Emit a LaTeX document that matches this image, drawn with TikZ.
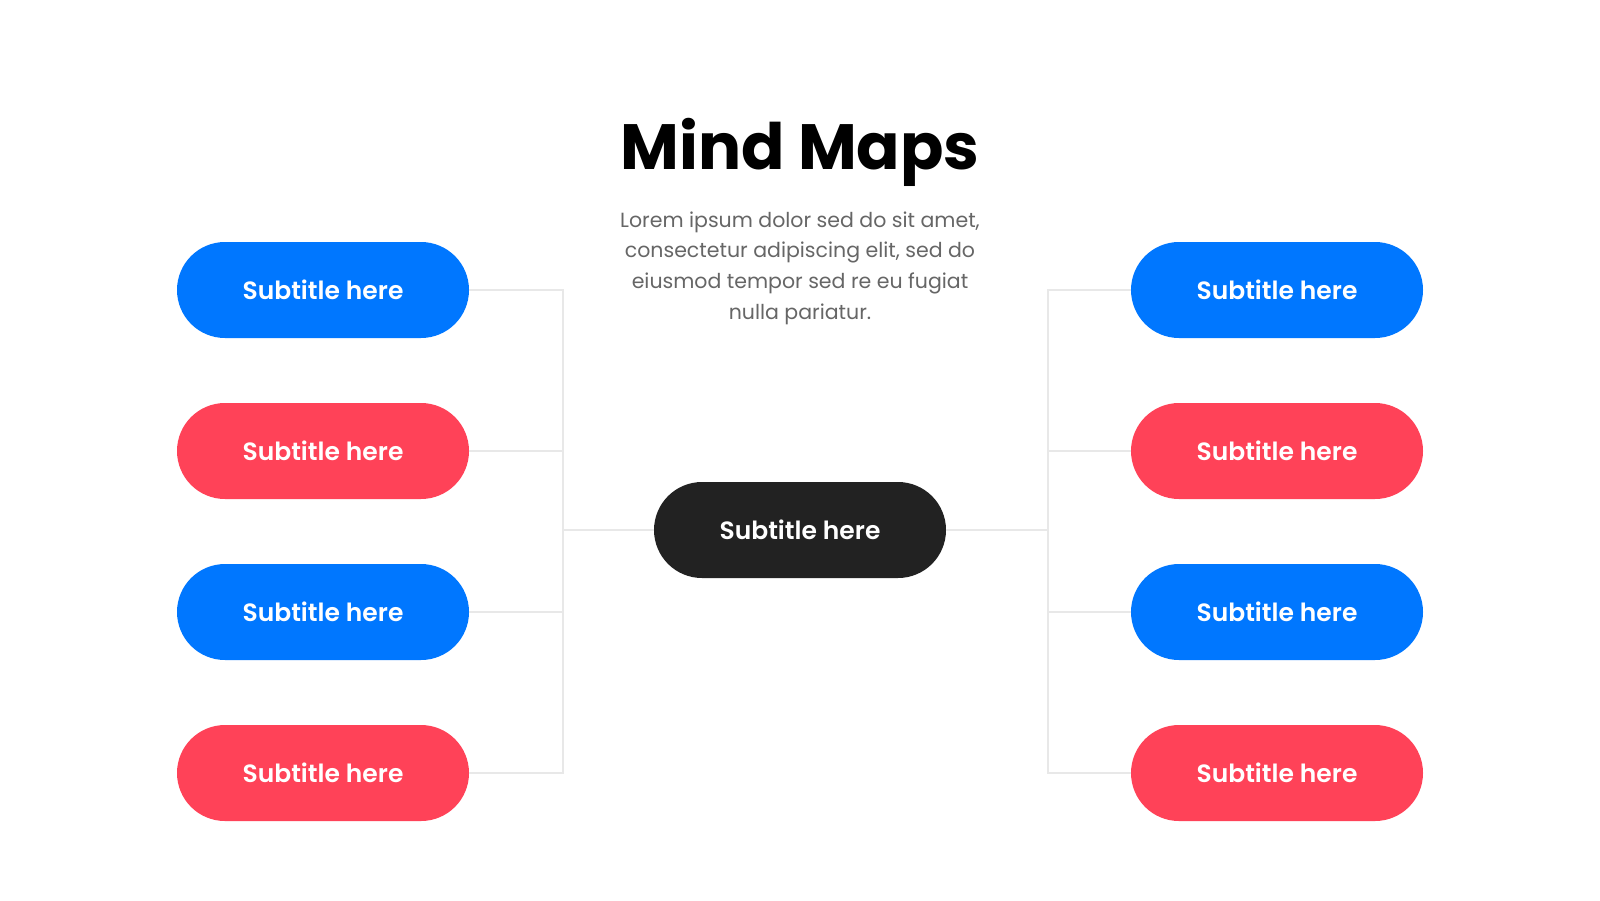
\documentclass[tikz,border=0pt]{standalone}
\usepackage{fontspec}
\usetikzlibrary{shapes.misc}
\setmainfont{Poppins}
\newfontfamily\pmed{Poppins}[UprightFont=* SemiBold]
\definecolor{pblue}{HTML}{0077FF}
\definecolor{pred}{HTML}{FF4258}
\definecolor{pdark}{HTML}{222222}
\definecolor{plinec}{HTML}{E8E8E8}
\definecolor{ptext}{HTML}{666666}
\begin{document}
\begin{tikzpicture}[x=1pt,y=-1pt,
  pill/.style={rounded rectangle, minimum width=292pt, minimum height=96pt, inner sep=0pt, text=white, font=\pmed\fontsize{25}{28}\selectfont},
  bluepill/.style={pill, fill=pblue},
  redpill/.style={pill, fill=pred},
  darkpill/.style={pill, fill=pdark},
  conn/.style={draw=plinec, line width=1.5pt}]
\useasboundingbox (0,0) rectangle (1600,900);
\fill[white] (0,0) rectangle (1600,900);
\node[font=\fontsize{64}{74}\selectfont\bfseries] (title) at (800,152) {Mind Maps};
\node[text=ptext, align=center, font=\fontsize{20.5}{30.6}\selectfont] (body) at (800,268) {Lorem ipsum dolor sed do sit amet,\\consectetur adipiscing elit, sed do\\eiusmod tempor sed re eu fugiat\\nulla pariatur.};
\node[darkpill] (c) at (800,530) {Subtitle here};
\node[bluepill] (l1) at (323,290) {Subtitle here};
\node[redpill] (l2) at (323,451) {Subtitle here};
\node[bluepill] (l3) at (323,612) {Subtitle here};
\node[redpill] (l4) at (323,773) {Subtitle here};
\node[bluepill] (r1) at (1277,290) {Subtitle here};
\node[redpill] (r2) at (1277,451) {Subtitle here};
\node[bluepill] (r3) at (1277,612) {Subtitle here};
\node[redpill] (r4) at (1277,773) {Subtitle here};
\coordinate (lx) at (563,0);
\coordinate (rx) at (1048,0);
\draw[conn] (l1.east) -- (l1.east -| lx) -- (l4.east -| lx) -- (l4.east);
\draw[conn] (l2.east) -- (l2.east -| lx);
\draw[conn] (l3.east) -- (l3.east -| lx);
\draw[conn] (c.west) -- (c.west -| lx);
\draw[conn] (r1.west) -- (r1.west -| rx) -- (r4.west -| rx) -- (r4.west);
\draw[conn] (r2.west) -- (r2.west -| rx);
\draw[conn] (r3.west) -- (r3.west -| rx);
\draw[conn] (c.east) -- (c.east -| rx);
\end{tikzpicture}
\end{document}
